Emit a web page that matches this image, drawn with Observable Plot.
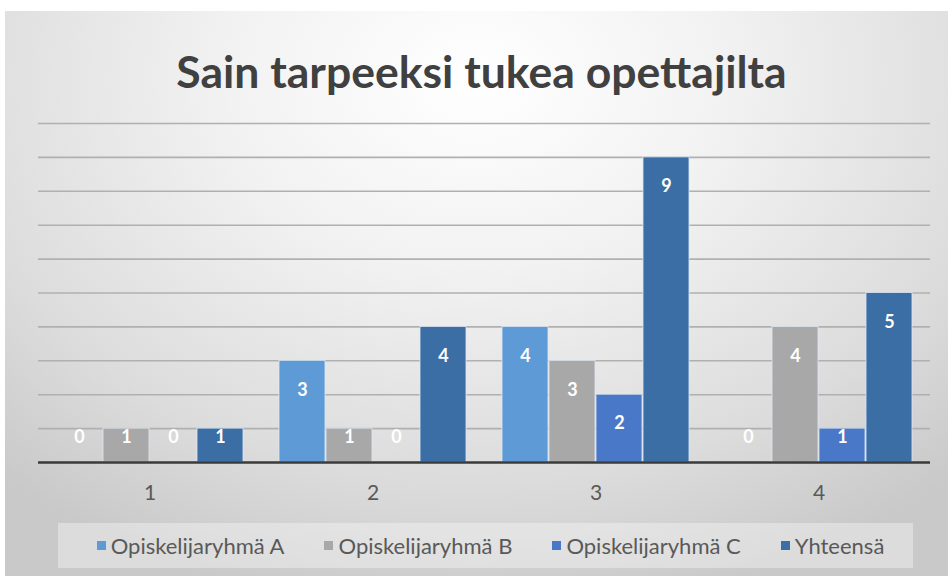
<!DOCTYPE html>
<html>
<head>
<meta charset="utf-8">
<script src="https://cdn.jsdelivr.net/npm/d3@7"></script>
<script src="https://cdn.jsdelivr.net/npm/@observablehq/plot@0.6"></script>
<style>
  html, body { margin: 0; padding: 0; background: #fff; }
  #frame {
    position: absolute; left: 5px; top: 11px; width: 943px; height: 565px;
    background: radial-gradient(ellipse 75% 95% at 50% 12%, #ffffff 0%, #f2f2f2 35%, #dcdcdc 75%, #c9c9c9 100%);
    overflow: hidden;
  }
  #title {
    position: absolute; left: 0; top: 33px; width: 943px; text-align: center;
    font-family: Lato, sans-serif; font-weight: 700; font-size: 44.5px; color: #404040;
    padding-left: 10px; box-sizing: border-box;
  }
  #chart { position: absolute; left: -5px; top: 89px; }
  #legend {
    position: absolute; left: 53px; top: 512px; width: 855px; height: 45px;
    background: rgba(255,255,255,0.35);
    display: flex; align-items: center; justify-content: center; gap: 40px;
    padding-left: 10px; box-sizing: border-box;
    font-family: Lato, sans-serif; font-size: 22px; color: #595959;
  }
  .item { display: flex; align-items: center; gap: 5px; }
  .sw { width: 9px; height: 9px; display: inline-block; }
</style>
</head>
<body>
<div id="frame">
  <div id="title"></div>
  <div id="chart"></div>
  <div id="legend"></div>
</div>
<script>
const title = "Sain tarpeeksi tukea opettajilta";
const categories = ["1", "2", "3", "4"];
const series = ["Opiskelijaryhmä A", "Opiskelijaryhmä B", "Opiskelijaryhmä C", "Yhteensä"];
const valuesA = [0, 3, 4, 0];
const valuesB = [1, 1, 3, 4];
const valuesC = [0, 0, 2, 1];
const valuesTotal = [1, 4, 9, 5];
const colors = ["#5e9bd6", "#a8a8a8", "#4a78c8", "#3a6ea5"];
const gridTicks = [1, 2, 3, 4, 5, 6, 7, 8, 9, 10];

const seriesValues = [valuesA, valuesB, valuesC, valuesTotal];
const data = [];
categories.forEach((c, i) => {
  series.forEach((s, j) => data.push({cat: c, series: s, value: seriesValues[j][i]}));
});

document.getElementById("title").textContent = title;

const chart = Plot.plot({
  width: 948,
  height: 410,
  marginLeft: 37,
  marginRight: 18,
  marginTop: 23,
  marginBottom: 48,
  style: {background: "transparent", fontFamily: "Lato, sans-serif", fontSize: "21px", color: "#595959", overflow: "visible"},
  fx: {domain: categories, paddingInner: 0, paddingOuter: 0, axis: "bottom", label: null, tickSize: 0, tickPadding: 23},
  x: {domain: series, paddingInner: 0.03, paddingOuter: 0.37, axis: null},
  y: {domain: [0, 10], axis: null},
  color: {domain: series, range: colors},
  marks: [
    Plot.ruleY(gridTicks, {stroke: "#b0b0b0", strokeWidth: 1.6}),
    Plot.barY(data, {fx: "cat", x: "series", y: "value", fill: "series", stroke: "#dfe9f5", strokeWidth: 0.8}),
    Plot.ruleY([0], {stroke: "#3a3a3a", strokeWidth: 2.5}),
    Plot.text(data.filter(d => d.value >= 2), {fx: "cat", x: "series", y: "value", text: d => String(d.value), dy: 29, fill: "white", fontWeight: "bold", fontSize: 18, lineAnchor: "middle"}),
    Plot.text(data.filter(d => d.value < 2), {fx: "cat", x: "series", y: 0, text: d => String(d.value), dy: -25, fill: "white", fontWeight: "bold", fontSize: 18, lineAnchor: "middle"})
  ]
});
document.getElementById("chart").appendChild(chart);

const legend = document.getElementById("legend");
series.forEach((s, i) => {
  const it = document.createElement("div");
  it.className = "item";
  const sw = document.createElement("span");
  sw.className = "sw";
  sw.style.background = colors[i];
  const t = document.createElement("span");
  t.textContent = s;
  it.appendChild(sw); it.appendChild(t);
  legend.appendChild(it);
});
</script>
</body>
</html>
